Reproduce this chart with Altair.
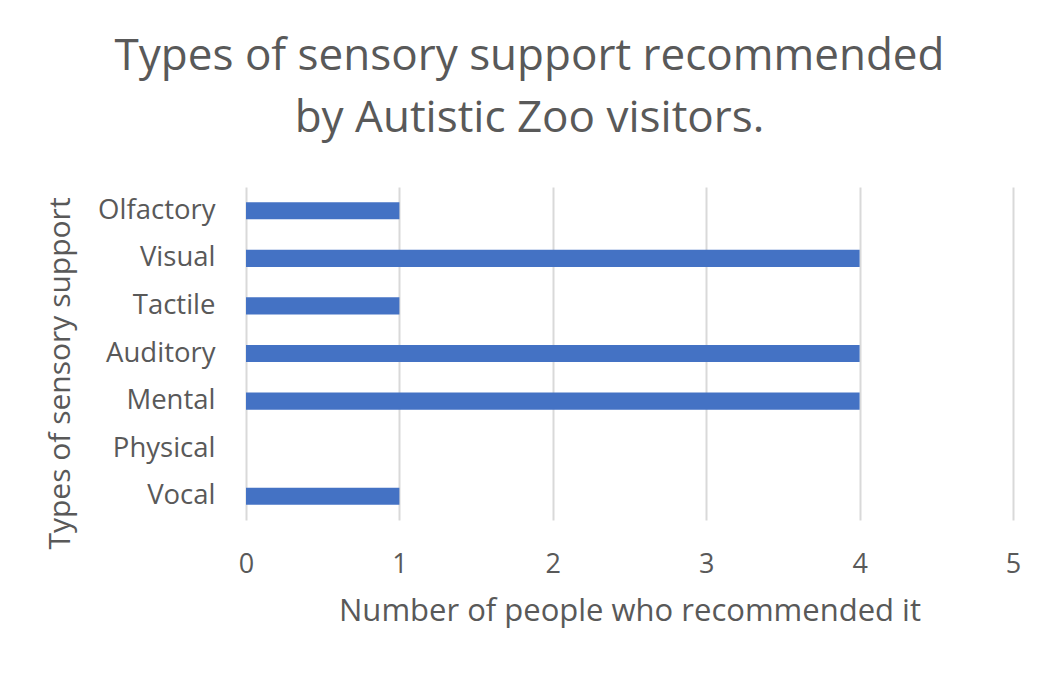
import altair as alt
import pandas as pd

categories = ["Olfactory", "Visual", "Tactile", "Auditory", "Mental", "Physical", "Vocal"]
counts = [1, 4, 1, 4, 4, 0, 1]
x_ticks = [0, 1, 2, 3, 4, 5]

df = pd.DataFrame({"type": categories, "count": counts})

FONT = "Open Sans"
GREY = "#595959"

chart = alt.Chart(df).mark_bar(color="#4472C4").encode(
    x=alt.X(
        "count:Q",
        scale=alt.Scale(domain=[0, 5], nice=False),
        axis=alt.Axis(
            values=x_ticks,
            title="Number of people who recommended it",
            grid=True,
            gridColor="#d9d9d9",
            gridWidth=2,
            domain=False,
            ticks=False,
            labelFlush=False,
            labelFontSize=27,
            labelColor=GREY,
            labelFont=FONT,
            labelPadding=31,
            titleFontSize=31,
            titleFont=FONT,
            titleColor=GREY,
            titleFontWeight="normal",
            titlePadding=19,
        ),
    ),
    y=alt.Y(
        "type:N",
        sort=categories,
        scale=alt.Scale(paddingInner=0.64, paddingOuter=0.32),
        axis=alt.Axis(
            title="Types of sensory support",
            grid=False,
            domain=False,
            ticks=False,
            labelFontSize=27.5,
            labelColor=GREY,
            labelFont=FONT,
            labelPadding=31,
            titleFontSize=30,
            titleFont=FONT,
            titleColor=GREY,
            titleFontWeight="normal",
            titlePadding=22,
            titleY=186,
        ),
    ),
).properties(
    width=767,
    height=333,
    title=alt.Title(
        ["Types of sensory support recommended", "by Autistic Zoo visitors."],
        fontSize=44,
        lineHeight=62,
        font=FONT,
        color=GREY,
        fontWeight="normal",
        anchor="middle",
        dx=-100,
        offset=46,
    ),
    autosize=alt.AutoSizeParams(type="none"),
    padding={"left": 238, "top": 179, "right": 30, "bottom": 145},
).configure_view(stroke=None)

chart.save("out.html", embed_options={"renderer": "svg", "actions": False})
